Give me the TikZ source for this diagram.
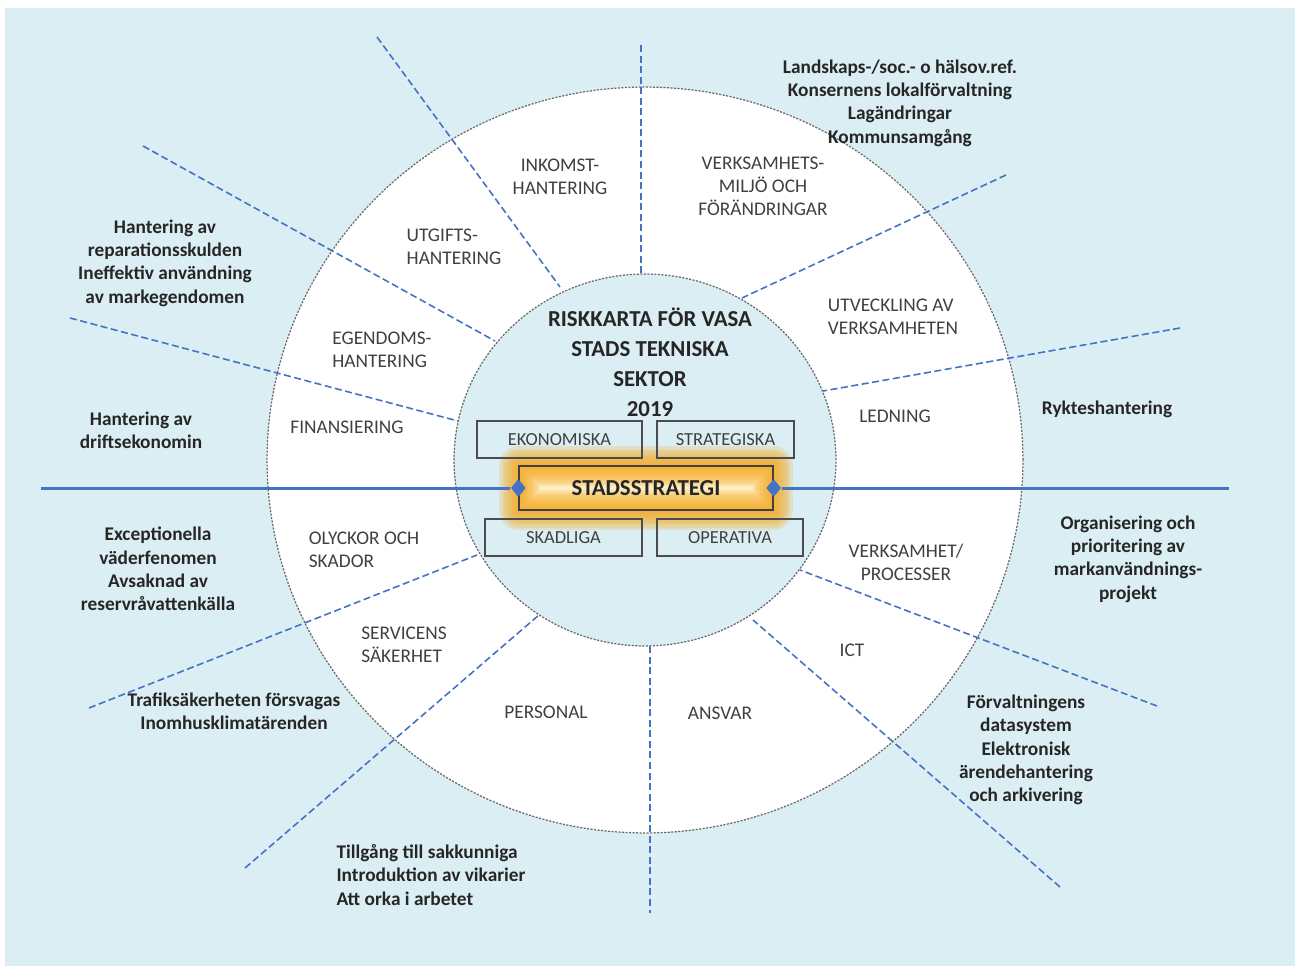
\documentclass[tikz,border=0pt]{standalone}
\usepackage{fontspec}
\setmainfont{Carlito}
\usetikzlibrary{shapes.geometric}

\definecolor{skyback}{RGB}{219,238,244}
\definecolor{rayblue}{RGB}{68,114,196}
\definecolor{ringgray}{RGB}{105,105,105}
\definecolor{labelgray}{RGB}{64,64,64}
\definecolor{glowor}{RGB}{245,168,30}
\definecolor{palegold}{RGB}{252,238,196}

\tikzset{
  ray/.style={rayblue, dash pattern=on 4pt off 2pt, line width=0.9pt},
  ringline/.style={draw=ringgray, dash pattern=on 1.2pt off 0.8pt, line width=0.7pt},
  axis/.style={rayblue, line width=1.7pt},
  dia/.style={diamond, fill=rayblue, inner sep=0pt, minimum width=0.3cm, minimum height=0.36cm},
  seg/.style={text=labelgray, font=\fontsize{11}{13}\selectfont, align=center},
  risk/.style={text=black!85, font=\fontsize{11}{13.3}\selectfont\bfseries, align=center},
  kind/.style={draw=black!70, line width=0.8pt, text=labelgray, font=\fontsize{10.5}{12}\selectfont, minimum height=0.74cm, inner sep=0pt},
  glow/.style={preaction={draw=glowor, draw opacity=0.2, line width=#1, line join=round}},
  ssbox/.style={preaction={fill=palegold}, glow=0.8cm, glow=0.7cm, glow=0.6cm, glow=0.5cm,
    glow=0.4cm, glow=0.3cm, glow=0.2cm, glow=0.1cm, draw=black!75, line width=0.8pt,
    minimum width=5.08cm, minimum height=0.88cm, font=\fontsize{13}{15}\selectfont\bfseries, text=black!85}
}

\begin{document}
\begin{tikzpicture}[x=0.02cm, y=-0.02cm]
% page and background
\useasboundingbox (0,0) rectangle (1295,967);
\fill[white] (0,0) rectangle (1295,967);
\fill[skyback] (5,8) rectangle (1295,966);

% outer ring
\coordinate (C) at (645,460);
\filldraw[fill=white, ringline] (C) ellipse [x radius=7.56cm, y radius=7.46cm];

% dashed rays
\draw[ray] (641,45) -- (641,275);
\draw[ray] (650,646) -- (650,913);
\draw[ray] (377,37) -- (560,287);
\draw[ray] (143,146) -- (495,341);
\draw[ray] (70,318) -- (458,421);
\draw[ray] (1006,175) -- (742,298);
\draw[ray] (1180,328) -- (823,391);
\draw[ray] (1157,706) -- (800,570);
\draw[ray] (1060,887) -- (753,620);
\draw[ray] (89,708) -- (477,555);
\draw[ray] (245,868) -- (539,615);

% inner circle
\filldraw[fill=skyback, ringline] (C) ellipse [x radius=3.82cm, y radius=3.72cm];

% ring segments
\node[seg] (inkomst) at (560,177) {INKOMST-\\HANTERING};
\node[seg, align=left] (utgift) at (454,247) {UTGIFTS-\\HANTERING};
\node[seg, align=left] (egendom) at (382,350) {EGENDOMS-\\HANTERING};
\node[seg] (finans) at (347,427) {FINANSIERING};
\node[seg] (miljo) at (763,186) {VERKSAMHETS-\\MILJÖ OCH\\FÖRÄNDRINGAR};
\node[seg, align=left] (utveckl) at (893,317) {UTVECKLING AV\\VERKSAMHETEN};
\node[seg] (ledning) at (895,416) {LEDNING};
\node[seg] (process) at (906,562) {VERKSAMHET/\\PROCESSER};
\node[seg] (ict) at (852,650) {ICT};
\node[seg] (ansvar) at (720,713) {ANSVAR};
\node[seg] (personal) at (546,712) {PERSONAL};
\node[seg, align=left] (service) at (404,645) {SERVICENS\\SÄKERHET};
\node[seg, align=left] (olyckor) at (364,550) {OLYCKOR OCH\\SKADOR};

% risks outside the ring
\node[risk] (landskap) at (900,103) {Landskaps-/soc.- o hälsov.ref.\\Konsernens lokalförvaltning\\Lagändringar\\Kommunsamgång};
\node[risk] (rykte) at (1107,409) {Rykteshantering};
\node[risk] (markanv) at (1128,559) {Organisering och\\prioritering av\\markanvändnings-\\projekt};
\node[risk] (datasys) at (1026,750) {Förvaltningens\\datasystem\\Elektronisk\\ärendehantering\\och arkivering};
\node[risk, align=left] (sakkunn) at (431,875) {Tillgång till sakkunniga\\Introduktion av vikarier\\Att orka i arbetet};
\node[risk] (trafik) at (234,711) {Trafiksäkerheten försvagas\\Inomhusklimatärenden};
\node[risk] (vader) at (158,569) {Exceptionella\\väderfenomen\\Avsaknad av\\reservråvattenkälla};
\node[risk] (drift) at (141,430) {Hantering av\\driftsekonomin};
\node[risk] (repar) at (165,263) {Hantering av\\reparationsskulden\\Ineffektiv användning\\av markegendomen};

% centre
\node[font=\fontsize{13}{17}\selectfont\bfseries, text=black!85, align=center] (title) at (650,362) {RISKKARTA FÖR VASA\\STADS TEKNISKA\\SEKTOR\\2019};
\node[ssbox] (ss) at (646,488) {STADSSTRATEGI};
\node[kind, minimum width=3.3cm] (ekon) at (559.5,439.5) {EKONOMISKA};
\node[kind, minimum width=2.74cm] (strat) at (725.5,439.5) {STRATEGISKA};
\node[kind, minimum width=3.14cm] (skad) at (563.5,537.5) {SKADLIGA};
\node[kind, minimum width=2.92cm] (oper) at (730,537.5) {OPERATIVA};

% strategy axis
\coordinate (axl) at (41,488);
\coordinate (axr) at (1229,488);
\node[dia] (dl) at (ss.west) {};
\node[dia] (dr) at (ss.east) {};
\draw[axis] (axl) -- (dl);
\draw[axis] (dr) -- (axr);
\end{tikzpicture}
\end{document}
